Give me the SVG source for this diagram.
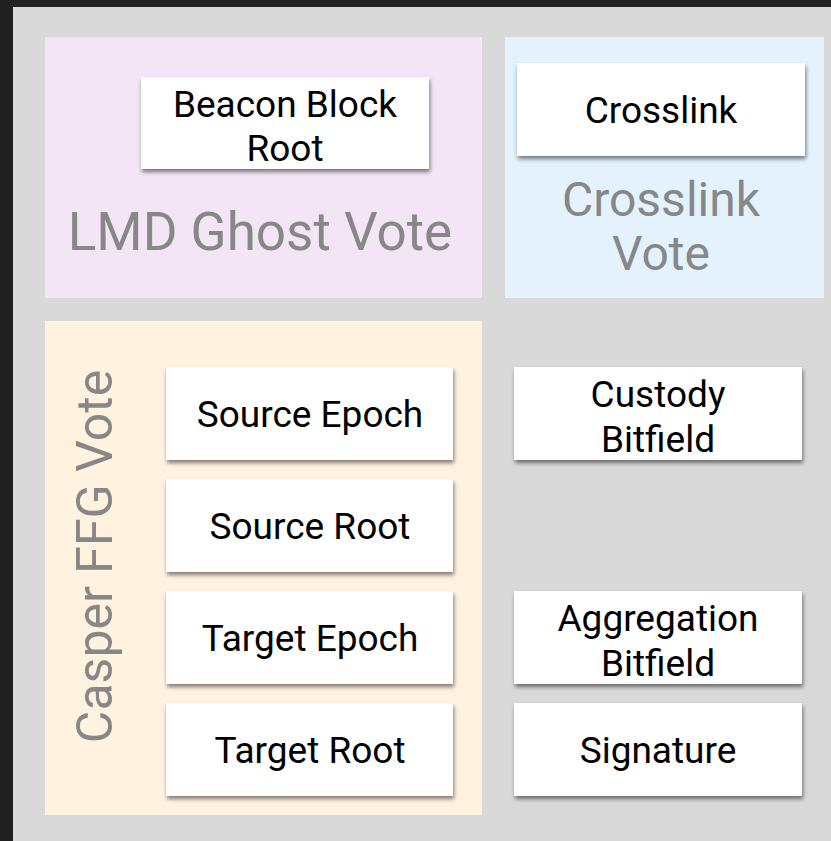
<svg xmlns="http://www.w3.org/2000/svg" width="831" height="841" viewBox="0 0 831 841">
<defs>
<filter id="sh" x="-10%" y="-10%" width="125%" height="140%">
<feDropShadow dx="1" dy="3" stdDeviation="2.2" flood-color="#000" flood-opacity="0.5"/>
</filter>
</defs>
<style>
.box{fill:#fff;filter:url(#sh)}
.t{font-family:Roboto,"Liberation Sans",sans-serif;font-size:37px;fill:#000;text-anchor:middle}
.lbl{font-family:Roboto,"Liberation Sans",sans-serif;fill:#878787;text-anchor:middle}
</style>
<rect x="0" y="0" width="831" height="841" fill="#212121"/>
<rect x="13" y="7" width="818" height="834" fill="#d9d9d9"/>
<g id="lmd">
<rect x="45" y="37" width="437" height="261" fill="#f3e5f5"/>
<text class="lbl" x="260" y="250" font-size="53">LMD Ghost Vote</text>
</g>
<g id="crosslinkvote">
<rect x="505" y="37" width="319" height="261" fill="#e3f2fd"/>
<text class="lbl" x="661" y="216" font-size="48">Crosslink</text>
<text class="lbl" x="661" y="270" font-size="48">Vote</text>
</g>
<g id="ffg">
<rect x="45" y="321" width="437" height="494" fill="#fff3e0"/>
<text class="lbl" font-size="50" transform="translate(112,556.5) rotate(-90)">Casper FFG Vote</text>
</g>
<g id="beacon"><rect class="box" x="141" y="77" width="288" height="92"/><text class="t" x="285" y="116.5">Beacon Block</text><text class="t" x="285" y="161">Root</text></g>
<g id="crosslink"><rect class="box" x="517" y="63" width="288" height="93"/><text class="t" x="661" y="123">Crosslink</text></g>
<g id="sourceEpoch"><rect class="box" x="166" y="367" width="287" height="93"/><text class="t" x="310" y="426.5">Source Epoch</text></g>
<g id="sourceRoot"><rect class="box" x="166" y="479" width="287" height="93"/><text class="t" x="310" y="538.5">Source Root</text></g>
<g id="targetEpoch"><rect class="box" x="166" y="591" width="287" height="93"/><text class="t" x="310" y="650.5">Target Epoch</text></g>
<g id="targetRoot"><rect class="box" x="166" y="703" width="287" height="93"/><text class="t" x="310" y="762.5">Target Root</text></g>
<g id="custody"><rect class="box" x="514" y="367" width="288" height="93"/><text class="t" x="658" y="407">Custody</text><text class="t" x="658" y="451.5">Bitfield</text></g>
<g id="aggregation"><rect class="box" x="514" y="591" width="288" height="93"/><text class="t" x="658" y="631">Aggregation</text><text class="t" x="658" y="675.5">Bitfield</text></g>
<g id="signature"><rect class="box" x="514" y="703" width="288" height="93"/><text class="t" x="658" y="762.5">Signature</text></g>
<g id="connectors"/>
</svg>
